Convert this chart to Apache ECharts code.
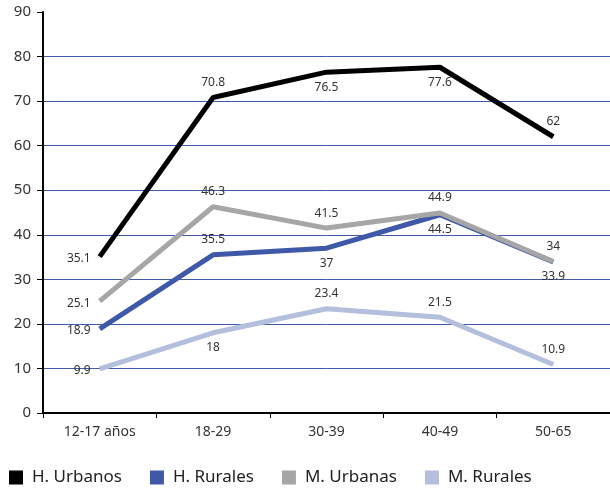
<!DOCTYPE html>
<html>
<head>
<meta charset="utf-8">
<script src="https://cdn.jsdelivr.net/npm/echarts@6/dist/echarts.min.js"></script>
<style>
  html, body { margin: 0; padding: 0; background: #fff; }
  #main { width: 610px; height: 488px; }
</style>
</head>
<body>
<div id="main"></div>
<script>
// 数据
var categories = ['12-17 años', '18-29', '30-39', '40-49', '50-65'];
var hUrbanos = [35.1, 70.8, 76.5, 77.6, 62];
var hRurales = [18.9, 35.5, 37, 44.5, 33.9];
var mUrbanas = [25.1, 46.3, 41.5, 44.9, 34];
var mRurales = [9.9, 18, 23.4, 21.5, 10.9];

// 标签位置
var labelSpots = {
  hUrbanos: ['left', 'top', 'bottom', 'bottom', 'top'],
  hRurales: ['left', 'top', 'bottom', 'bottom', 'bottom'],
  mUrbanas: ['left', 'top', 'top', 'top', 'top'],
  mRurales: ['left', 'bottom', 'top', 'top', 'top']
};

var font = '"Noto Sans", "Open Sans", sans-serif';

function makeSeries(name, values, color, spots, width) {
  return {
    name: name,
    type: 'line',
    data: values.map(function (v, i) {
      var lab = { position: spots[i] };
      // 左侧标签稍微下移
      if (spots[i] === 'left') lab.offset = [0, 2];
      return { value: v, label: lab };
    }),
    symbol: 'circle',
    symbolSize: 0,
    showSymbol: true,
    lineStyle: { color: color, width: width },
    itemStyle: { color: color },
    label: {
      show: true,
      color: '#333',
      fontSize: 12,
      fontFamily: font,
      distance: 9
    }
  };
}

var chart = echarts.init(document.getElementById('main'));
chart.setOption({
  animation: false,
  textStyle: { fontFamily: font },
  grid: { left: 43, top: 12, right: -3, bottom: 75, containLabel: false },
  legend: {
    top: 464,
    left: 4,
    itemWidth: 14,
    itemHeight: 14,
    itemGap: 28,
    icon: 'rect',
    textStyle: { fontSize: 17, color: '#222', fontFamily: font, padding: [0, 0, 0, 4] },
    data: ['H. Urbanos', 'H. Rurales', 'M. Urbanas', 'M. Rurales']
  },
  xAxis: {
    type: 'category',
    data: categories,
    boundaryGap: true,
    axisLine: { lineStyle: { color: '#000', width: 2 } },
    axisTick: { show: true, length: 5, lineStyle: { color: '#000' } },
    axisLabel: { color: '#333', fontSize: 14, margin: 12 }
  },
  yAxis: {
    type: 'value',
    min: 0,
    max: 90,
    interval: 10,
    axisLine: { show: true, lineStyle: { color: '#000', width: 2 } },
    axisTick: { show: true, length: 6, lineStyle: { color: '#000' } },
    axisLabel: { color: '#333', fontSize: 15, margin: 12 },
    splitLine: { show: true, showMinLine: false, showMaxLine: false, lineStyle: { color: '#3F5BA9', width: 1 } }
  },
  series: [
    makeSeries('H. Urbanos', hUrbanos, '#000000', labelSpots.hUrbanos, 5),
    makeSeries('H. Rurales', hRurales, '#4058A8', labelSpots.hRurales, 5),
    makeSeries('M. Urbanas', mUrbanas, '#A6A6A6', labelSpots.mUrbanas, 5),
    makeSeries('M. Rurales', mRurales, '#B4BEDD', labelSpots.mRurales, 5)
  ]
});
</script>
</body>
</html>
